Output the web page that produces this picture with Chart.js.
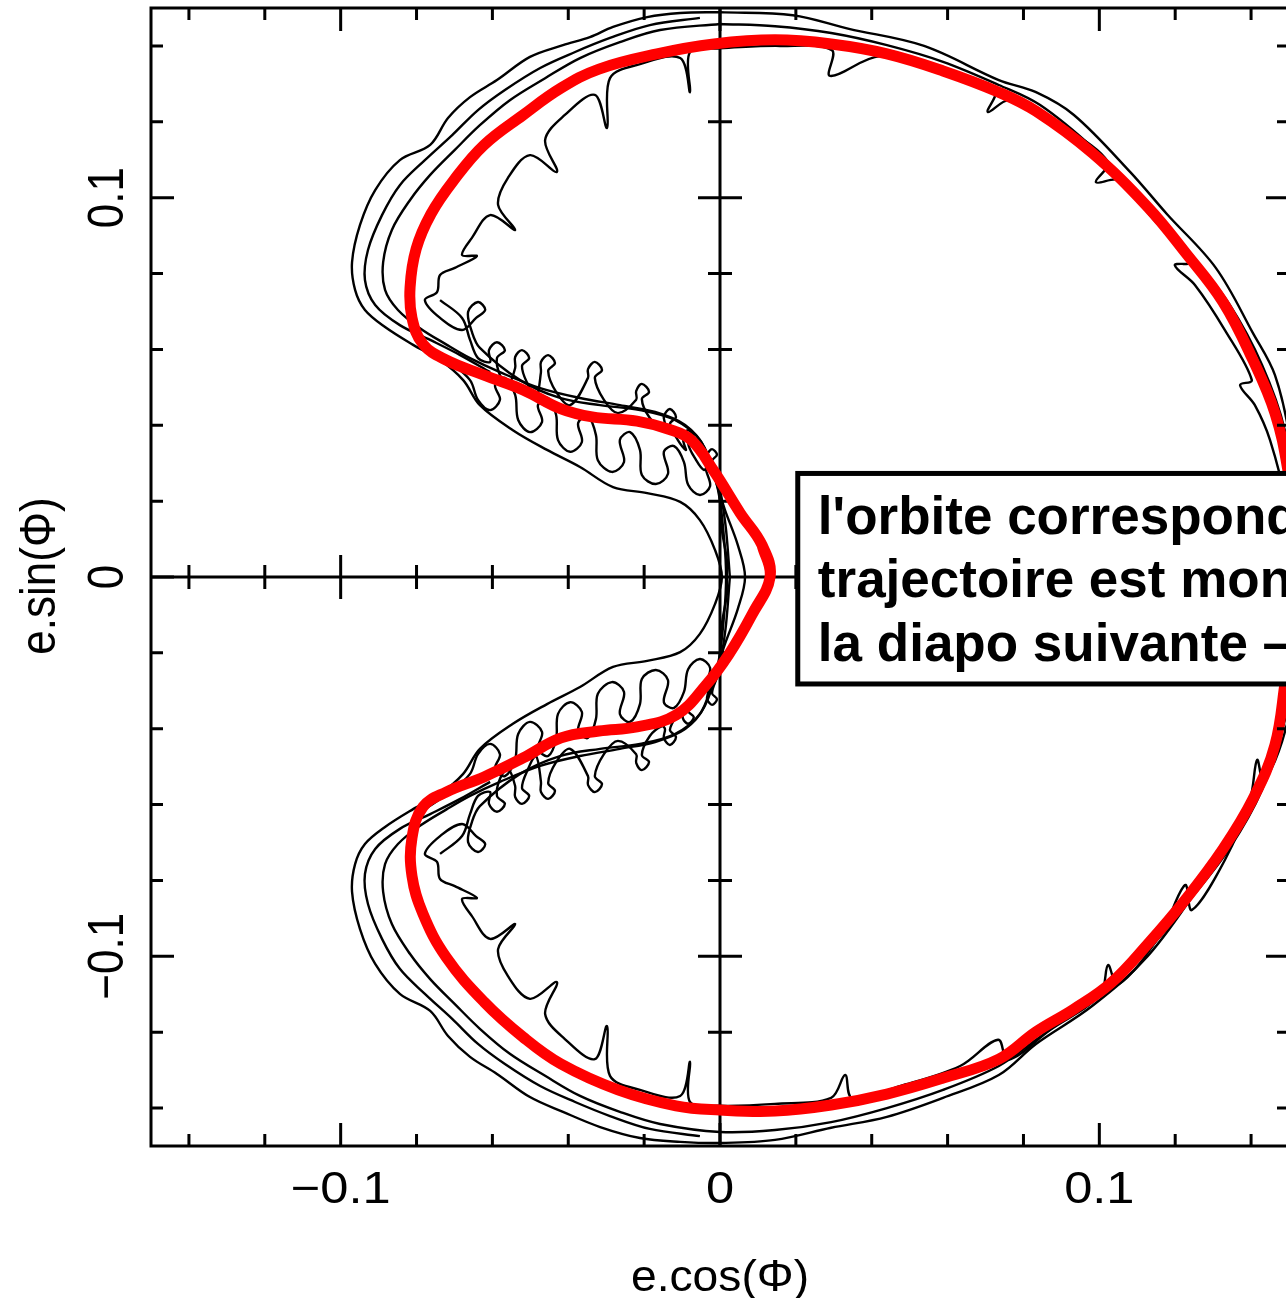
<!DOCTYPE html>
<html>
<head>
<meta charset="utf-8">
<script src="https://cdn.jsdelivr.net/npm/chart.js@4.4.1/dist/chart.umd.min.js"></script>
<style>
  html, body { margin: 0; padding: 0; background: #fff; overflow: hidden; }
  #wrap { width: 1300px; height: 1298px; }
</style>
</head>
<body>
<div id="wrap"><canvas id="orbitChart" width="1300" height="1298"></canvas></div>
<script>
// tick values and labels
const xTicks = [-0.1, 0, 0.1];
const xTickLabels = ['\u22120.1', '0', '0.1'];
const yTicks = [-0.1, 0, 0.1];
const yTickLabels = ['\u22120.1', '0', '0.1'];
const minorTicks = [-0.14, -0.12, -0.1, -0.08, -0.06, -0.04, -0.02, 0, 0.02, 0.04, 0.06, 0.08, 0.1, 0.12, 0.14];
const majorTicks = [-0.1, 0, 0.1];
const xTitle = 'e.cos(\u03a6)';
const yTitle = 'e.sin(\u03a6)';
const boxLines = ["l'orbite correspond", 'trajectoire est mon', 'la diapo suivante \u2013'];

// mean orbit (red), first and last points overlap so the loop closes smoothly
const redX = [0.0084,0.0132,0.0111,0.0053,-0.0016,-0.0076,-0.0137,-0.0219,-0.0337,-0.0419,-0.0519,-0.0622,-0.0722,-0.0783,-0.0812,-0.0817,-0.0801,-0.0762,-0.0701,-0.0622,-0.0519,-0.0419,-0.0319,-0.0166,-0.0016,0.0145,0.0293,0.0440,0.0588,0.0735,0.0833,0.0981,0.1128,0.1228,0.1326,0.1405,0.1463,0.1497,0.1516,0.1521,0.1516,0.1492,0.1463,0.1405,0.1326,0.1228,0.1128,0.1031,0.0933,0.0833,0.0735,0.0588,0.0440,0.0293,0.0145,0,-0.0116,-0.0269,-0.0419,-0.0519,-0.0622,-0.0722,-0.0783,-0.0812,-0.0812,-0.0783,-0.0722,-0.0622,-0.0519,-0.0419,-0.0319,-0.0219,-0.0116,-0.0037,0.0024,0.0084,0.0132,0.0111];
const redY = [-0.0100,0,0.0084,0.0169,0.0279,0.0361,0.0390,0.0411,0.0422,0.0443,0.0493,0.0532,0.0572,0.0614,0.0683,0.0764,0.0865,0.0957,0.1047,0.1139,0.1218,0.1289,0.1339,0.1379,0.1405,0.1416,0.1405,0.1379,0.1334,0.1278,0.1228,0.1118,0.0975,0.0854,0.0725,0.0572,0.0432,0.0282,0.0124,0,-0.0127,-0.0264,-0.0443,-0.0585,-0.0717,-0.0849,-0.0967,-0.1070,-0.1139,-0.1199,-0.1271,-0.1321,-0.1363,-0.1392,-0.1408,-0.1405,-0.1394,-0.1352,-0.1284,-0.1213,-0.1120,-0.1002,-0.0888,-0.0788,-0.0688,-0.0606,-0.0567,-0.0527,-0.0477,-0.0424,-0.0406,-0.0395,-0.0364,-0.0285,-0.0203,-0.0100,0,0.0084];

// black trajectories
const outerX = [0,-0.0105,-0.0192,-0.0282,-0.0343,-0.0414,-0.0501,-0.0588,-0.0659,-0.0717,-0.0764,-0.0844,-0.0909,-0.0949,-0.0970,-0.0962,-0.0936,-0.0883,-0.0809,-0.0738,-0.0677,-0.0633,-0.0546,-0.0456,-0.0369,-0.0282,-0.0192,-0.0105,-0.0053,-0.0013,0.0005,-0.0013,-0.0053,-0.0105,-0.0192,-0.0282,-0.0369,-0.0456,-0.0546,-0.0633,-0.0677,-0.0738,-0.0809,-0.0883,-0.0936,-0.0962,-0.0970,-0.0949,-0.0909,-0.0844,-0.0764,-0.0717,-0.0659,-0.0588,-0.0501,-0.0414,-0.0316,-0.0211,-0.0105,0,0.0145,0.0293,0.0440,0.0588,0.0735,0.0833,0.0981,0.1128,0.1276,0.1376,0.1463,0.1508,0.1529,0.1529,0.1503,0.1463,0.1405,0.1307,0.1178,0.1081,0.0933,0.0833,0.0735,0.0538,0.0340,0.0192,0];
const outerY = [0.1489,0.1487,0.1476,0.1450,0.1423,0.1402,0.1371,0.1310,0.1265,0.1210,0.1139,0.1099,0.1020,0.0928,0.0830,0.0757,0.0704,0.0659,0.0612,0.0572,0.0519,0.0453,0.0387,0.0335,0.0290,0.0237,0.0221,0.0198,0.0150,0.0071,0,-0.0071,-0.0150,-0.0198,-0.0221,-0.0237,-0.0290,-0.0335,-0.0387,-0.0453,-0.0519,-0.0572,-0.0612,-0.0659,-0.0704,-0.0757,-0.0830,-0.0928,-0.1020,-0.1099,-0.1144,-0.1210,-0.1265,-0.1310,-0.1371,-0.1410,-0.1450,-0.1479,-0.1489,-0.1492,-0.1484,-0.1452,-0.1423,-0.1373,-0.1313,-0.1231,-0.1131,-0.0999,-0.0796,-0.0635,-0.0485,-0.0324,-0.0113,0.0124,0.0361,0.0532,0.0643,0.0815,0.0957,0.1068,0.1218,0.1278,0.1310,0.1400,0.1445,0.1481,0.1489];

const arcUpX = [-0.0053,-0.0185,-0.0290,-0.0382,-0.0474,-0.0567,-0.0638,-0.0706,-0.0778,-0.0844,-0.0891,-0.0928,-0.0936,-0.0909,-0.0844,-0.0764,-0.0685,-0.0606];
const arcUpY = [0.1474,0.1455,0.1421,0.1384,0.1342,0.1284,0.1231,0.1165,0.1099,0.1033,0.0954,0.0862,0.0783,0.0717,0.0664,0.0625,0.0585,0.0540];
const arcDnX = [-0.0606,-0.0685,-0.0764,-0.0844,-0.0909,-0.0936,-0.0928,-0.0891,-0.0844,-0.0778,-0.0706,-0.0638,-0.0567,-0.0474,-0.0382,-0.0290,-0.0185,-0.0053];
const arcDnY = [-0.0540,-0.0585,-0.0625,-0.0664,-0.0717,-0.0783,-0.0862,-0.0954,-0.1033,-0.1099,-0.1165,-0.1231,-0.1284,-0.1342,-0.1384,-0.1421,-0.1455,-0.1474];

const midX = [0,-0.0158,-0.0264,-0.0369,-0.0461,-0.0554,-0.0633,-0.0699,-0.0764,-0.0817,-0.0865,-0.0888,-0.0883,-0.0849,-0.0791,-0.0720,-0.0659,-0.0580,-0.0474,-0.0369,-0.0264,-0.0171,-0.0092,-0.0040,-0.0005,0.0011,0.0016,0.0011,-0.0005,-0.0040,-0.0092,-0.0171,-0.0264,-0.0369,-0.0474,-0.0580,-0.0659,-0.0720,-0.0791,-0.0849,-0.0883,-0.0888,-0.0865,-0.0817,-0.0764,-0.0699,-0.0633,-0.0554,-0.0461,-0.0369,-0.0264,-0.0158,0,0.0145,0.0293,0.0440,0.0588,0.0735,0.0833,0.0981,0.1128,0.1239,0.1344,0.1429,0.1489,0.1518,0.1518,0.1489,0.1429,0.1344,0.1244,0.1133,0.0989,0.0844,0.0735,0.0588,0.0440,0.0293,0.0145,0];
const midY = [0.1458,0.1442,0.1410,0.1368,0.1315,0.1257,0.1191,0.1126,0.1060,0.0994,0.0915,0.0830,0.0757,0.0704,0.0656,0.0612,0.0577,0.0540,0.0498,0.0472,0.0453,0.0435,0.0401,0.0340,0.0229,0.0098,0,-0.0098,-0.0229,-0.0340,-0.0401,-0.0435,-0.0453,-0.0472,-0.0498,-0.0540,-0.0577,-0.0612,-0.0656,-0.0704,-0.0757,-0.0830,-0.0915,-0.0994,-0.1060,-0.1126,-0.1191,-0.1257,-0.1315,-0.1368,-0.1410,-0.1442,-0.1463,-0.1458,-0.1437,-0.1400,-0.1352,-0.1289,-0.1220,-0.1110,-0.0983,-0.0851,-0.0714,-0.0561,-0.0377,-0.0166,0.0177,0.0387,0.0559,0.0717,0.0849,0.0981,0.1126,0.1244,0.1297,0.1358,0.1402,0.1434,0.1452,0.1458];

const innerX = [0,-0.0079,-0.0079,-0.0105,-0.0211,-0.0290,-0.0298,-0.0330,-0.0409,-0.0461,-0.0430,-0.0501,-0.0559,-0.0585,-0.0540,-0.0606,-0.0654,-0.0680,-0.0641,-0.0699,-0.0738,-0.0746,-0.0778,-0.0738,-0.0680,-0.0643,-0.0619,-0.0638,-0.0664,-0.0654,-0.0633,-0.0527,-0.0422,-0.0316,-0.0211,-0.0119,-0.0053,-0.0021,0.0013,0.0047,0.0066,0.0047,0.0013,-0.0021,-0.0053,-0.0119,-0.0211,-0.0316,-0.0422,-0.0527,-0.0633,-0.0654,-0.0664,-0.0638,-0.0619,-0.0643,-0.0680,-0.0738,-0.0778,-0.0746,-0.0738,-0.0699,-0.0641,-0.0680,-0.0654,-0.0606,-0.0540,-0.0585,-0.0559,-0.0501,-0.0430,-0.0461,-0.0409,-0.0330,-0.0298,-0.0290,-0.0211,-0.0105,-0.0079,-0.0079,0,0.0145,0.0293,0.0330,0.0348,0.0474,0.0633,0.0733,0.0759,0.0870,0.1002,0.1023,0.1049,0.1160,0.1226,0.1244,0.1331,0.1397,0.1416,0.1434,0.1481,0.1503,0.1503,0.1489,0.1450,0.1410,0.1371,0.1402,0.1331,0.1252,0.1199,0.1239,0.1133,0.1054,0.0991,0.1023,0.0896,0.0764,0.0706,0.0725,0.0580,0.0422,0.0290,0.0295,0.0158,0];
const innerY = [0.1394,0.1384,0.1278,0.1368,0.1352,0.1315,0.1184,0.1271,0.1218,0.1152,0.1068,0.1112,0.1052,0.0981,0.0915,0.0954,0.0894,0.0849,0.0846,0.0815,0.0796,0.0751,0.0730,0.0683,0.0651,0.0683,0.0704,0.0725,0.0699,0.0646,0.0604,0.0519,0.0472,0.0453,0.0440,0.0414,0.0361,0.0282,0.0177,0.0084,0,-0.0084,-0.0177,-0.0282,-0.0361,-0.0414,-0.0440,-0.0453,-0.0472,-0.0519,-0.0604,-0.0646,-0.0699,-0.0725,-0.0704,-0.0683,-0.0651,-0.0683,-0.0730,-0.0751,-0.0796,-0.0815,-0.0846,-0.0849,-0.0894,-0.0954,-0.0915,-0.0981,-0.1052,-0.1112,-0.1068,-0.1152,-0.1218,-0.1271,-0.1184,-0.1315,-0.1352,-0.1368,-0.1278,-0.1384,-0.1394,-0.1389,-0.1373,-0.1313,-0.1373,-0.1342,-0.1289,-0.1220,-0.1273,-0.1194,-0.1102,-0.1023,-0.1075,-0.0944,-0.0812,-0.0878,-0.0746,-0.0588,-0.0482,-0.0548,-0.0377,-0.0192,0,0.0203,0.0361,0.0453,0.0506,0.0519,0.0651,0.0770,0.0822,0.0830,0.0954,0.1046,0.1041,0.1094,0.1191,0.1257,0.1226,0.1284,0.1336,0.1373,0.1321,0.1389,0.1400,0.1394];

const loopUpX = [-0.0778,-0.0712,-0.0659,-0.0638,-0.0606,-0.0580,-0.0593,-0.0567,-0.0540,-0.0532,-0.0501,-0.0469,-0.0480,-0.0453,-0.0432,-0.0427,-0.0395,-0.0364,-0.0374,-0.0348,-0.0327,-0.0322,-0.0285,-0.0253,-0.0264,-0.0237,-0.0211,-0.0206,-0.0169,-0.0137,-0.0148,-0.0121,-0.0095,-0.0084,-0.0053,-0.0026,-0.0037,-0.0016,0,0.0005,0.0018,0.0018];
const loopUpY = [0.0612,0.0567,0.0519,0.0467,0.0440,0.0467,0.0506,0.0525,0.0480,0.0414,0.0382,0.0409,0.0453,0.0472,0.0427,0.0361,0.0330,0.0356,0.0406,0.0424,0.0374,0.0308,0.0277,0.0303,0.0361,0.0382,0.0335,0.0269,0.0245,0.0272,0.0330,0.0345,0.0303,0.0243,0.0216,0.0240,0.0287,0.0282,0.0203,0.0124,0.0045,0];
const loopDnX = [-0.0778,-0.0712,-0.0659,-0.0638,-0.0606,-0.0580,-0.0593,-0.0567,-0.0540,-0.0532,-0.0501,-0.0469,-0.0480,-0.0453,-0.0432,-0.0427,-0.0395,-0.0364,-0.0374,-0.0348,-0.0327,-0.0322,-0.0285,-0.0253,-0.0264,-0.0237,-0.0211,-0.0206,-0.0169,-0.0137,-0.0148,-0.0121,-0.0095,-0.0084,-0.0053,-0.0026,-0.0037,-0.0016,0,0.0005,0.0018,0.0018];
const loopDnY = [-0.0612,-0.0567,-0.0519,-0.0467,-0.0440,-0.0467,-0.0506,-0.0525,-0.0480,-0.0414,-0.0382,-0.0409,-0.0453,-0.0472,-0.0427,-0.0361,-0.0330,-0.0356,-0.0406,-0.0424,-0.0374,-0.0308,-0.0277,-0.0303,-0.0361,-0.0382,-0.0335,-0.0269,-0.0245,-0.0272,-0.0330,-0.0345,-0.0303,-0.0243,-0.0216,-0.0240,-0.0287,-0.0282,-0.0203,-0.0124,-0.0045,0];

const curlUpX = [-0.0738,-0.0680,-0.0659,-0.0638,-0.0606,-0.0609,-0.0588,-0.0567,-0.0588,-0.0580,-0.0559,-0.0540,-0.0540,-0.0522,-0.0503,-0.0522,-0.0506,-0.0485,-0.0472,-0.0472,-0.0453,-0.0435,-0.0453,-0.0432,-0.0395,-0.0348,-0.0348,-0.0330,-0.0311,-0.0330,-0.0306,-0.0269,-0.0221,-0.0221,-0.0206,-0.0187,-0.0206,-0.0185,-0.0153,-0.0145,-0.0148,-0.0132,-0.0116,-0.0132,-0.0111,-0.0090,-0.0095,-0.0098,-0.0084,-0.0069,-0.0084,-0.0063,-0.0042,-0.0032,-0.0034,-0.0021,-0.0008,-0.0021,-0.0005,0.0005,0.0016,0.0026];
const curlUpY = [0.0730,0.0683,0.0625,0.0577,0.0567,0.0598,0.0619,0.0598,0.0577,0.0532,0.0506,0.0551,0.0580,0.0598,0.0577,0.0556,0.0506,0.0472,0.0540,0.0567,0.0585,0.0564,0.0543,0.0488,0.0453,0.0525,0.0548,0.0567,0.0546,0.0525,0.0467,0.0432,0.0467,0.0490,0.0509,0.0488,0.0469,0.0419,0.0393,0.0401,0.0424,0.0443,0.0422,0.0403,0.0361,0.0335,0.0351,0.0372,0.0387,0.0369,0.0353,0.0308,0.0282,0.0303,0.0322,0.0337,0.0322,0.0306,0.0256,0.0203,0.0124,0];
const curlDnX = [-0.0738,-0.0680,-0.0659,-0.0638,-0.0606,-0.0609,-0.0588,-0.0567,-0.0588,-0.0580,-0.0559,-0.0540,-0.0540,-0.0522,-0.0503,-0.0522,-0.0506,-0.0485,-0.0472,-0.0472,-0.0453,-0.0435,-0.0453,-0.0432,-0.0395,-0.0348,-0.0348,-0.0330,-0.0311,-0.0330,-0.0306,-0.0269,-0.0221,-0.0221,-0.0206,-0.0187,-0.0206,-0.0185,-0.0153,-0.0145,-0.0148,-0.0132,-0.0116,-0.0132,-0.0111,-0.0090,-0.0095,-0.0098,-0.0084,-0.0069,-0.0084,-0.0063,-0.0042,-0.0032,-0.0034,-0.0021,-0.0008,-0.0021,-0.0005,0.0005,0.0016,0.0026];
const curlDnY = [-0.0730,-0.0683,-0.0625,-0.0577,-0.0567,-0.0598,-0.0619,-0.0598,-0.0577,-0.0532,-0.0506,-0.0551,-0.0580,-0.0598,-0.0577,-0.0556,-0.0506,-0.0472,-0.0540,-0.0567,-0.0585,-0.0564,-0.0543,-0.0488,-0.0453,-0.0525,-0.0548,-0.0567,-0.0546,-0.0525,-0.0467,-0.0432,-0.0467,-0.0490,-0.0509,-0.0488,-0.0469,-0.0419,-0.0393,-0.0401,-0.0424,-0.0443,-0.0422,-0.0403,-0.0361,-0.0335,-0.0351,-0.0372,-0.0387,-0.0369,-0.0353,-0.0308,-0.0282,-0.0303,-0.0322,-0.0337,-0.0322,-0.0306,-0.0256,-0.0203,-0.0124,0];

const pts = (xs, ys) => xs.map((v, i) => ({ x: v, y: ys[i] }));

const blackLine = (xs, ys) => ({
  data: pts(xs, ys),
  showLine: true,
  borderColor: '#000',
  borderWidth: 2.4,
  tension: 0.35,
  pointRadius: 0,
  order: 1
});

const font = (size, weight) => (weight || '') + ' ' + size + 'px "Liberation Sans", Arial, sans-serif';

// frame, inner ticks, centre axes, labels and the text box
const framePlugin = {
  id: 'framePlugin',
  beforeDatasetsDraw(chart) {
    const { ctx, chartArea: a, scales: { x, y } } = chart;
    const x0 = x.getPixelForValue(0), y0 = y.getPixelForValue(0);
    ctx.save();
    ctx.strokeStyle = '#000';
    ctx.lineWidth = 3;
    ctx.beginPath();
    ctx.moveTo(x0, a.top); ctx.lineTo(x0, a.bottom);
    ctx.moveTo(a.left, y0); ctx.lineTo(a.right, y0);
    minorTicks.forEach(v => {
      const len = majorTicks.includes(v) ? 22 : 12;
      const px = x.getPixelForValue(v), py = y.getPixelForValue(v);
      ctx.moveTo(x0 - len, py); ctx.lineTo(x0 + len, py);
      ctx.moveTo(px, y0 - len); ctx.lineTo(px, y0 + len);
    });
    ctx.stroke();
    ctx.restore();
  },
  afterDatasetsDraw(chart) {
    const { ctx, chartArea: a, scales: { x, y } } = chart;
    ctx.save();
    ctx.strokeStyle = '#000';
    ctx.fillStyle = '#000';
    ctx.lineWidth = 3;
    ctx.strokeRect(a.left, a.top, a.right - a.left, a.bottom - a.top);
    ctx.beginPath();
    minorTicks.forEach(v => {
      const len = majorTicks.includes(v) ? 23 : 12;
      const px = x.getPixelForValue(v), py = y.getPixelForValue(v);
      ctx.moveTo(px, a.top); ctx.lineTo(px, a.top + len);
      ctx.moveTo(px, a.bottom); ctx.lineTo(px, a.bottom - len);
      ctx.moveTo(a.left, py); ctx.lineTo(a.left + len, py);
      ctx.moveTo(a.right, py); ctx.lineTo(a.right - len, py);
    });
    ctx.stroke();

    // tick labels
    ctx.font = font(44);
    ctx.textAlign = 'center';
    ctx.textBaseline = 'alphabetic';
    xTicks.forEach((v, i) => {
      ctx.save();
      ctx.translate(x.getPixelForValue(v), a.bottom + 57);
      ctx.scale(1.15, 1);
      ctx.fillText(xTickLabels[i], 0, 0);
      ctx.restore();
    });
    yTicks.forEach((v, i) => {
      ctx.save();
      ctx.translate(a.left - 28, y.getPixelForValue(v));
      ctx.scale(1.15, 1);
      ctx.rotate(-Math.PI / 2);
      ctx.fillText(yTickLabels[i], 0, 0);
      ctx.restore();
    });

    // axis titles
    ctx.save();
    ctx.translate((a.left + a.right) / 2, a.bottom + 145);
    ctx.scale(1.05, 1);
    ctx.fillText(xTitle, 0, 0);
    ctx.restore();
    ctx.save();
    ctx.translate(a.left - 96, y.getPixelForValue(0) - 1);
    ctx.scale(1.15, 1);
    ctx.rotate(-Math.PI / 2);
    ctx.fillText(yTitle, 0, 0);
    ctx.restore();

    // text box
    const bx = x.getPixelForValue(0.0205);
    const bt = y.getPixelForValue(0.0273);
    const bb = y.getPixelForValue(-0.0282);
    ctx.fillStyle = '#fff';
    ctx.fillRect(bx, bt, chart.width - bx + 20, bb - bt);
    ctx.lineWidth = 5;
    ctx.strokeRect(bx, bt, chart.width - bx + 20, bb - bt);
    ctx.fillStyle = '#000';
    ctx.font = font(53, 'bold');
    ctx.textAlign = 'left';
    const tx = x.getPixelForValue(0.0258);
    [0.0113, -0.0054, -0.0222].forEach((v, i) => {
      ctx.fillText(boxLines[i], tx, y.getPixelForValue(v));
    });
    ctx.restore();
  }
};

const ctx = document.getElementById('orbitChart').getContext('2d');

const myChart = new Chart(ctx, {
  type: 'scatter',
  data: {
    datasets: [
      {
        data: pts(redX, redY),
        showLine: true,
        borderColor: '#ff0000',
        borderWidth: 11,
        borderCapStyle: 'butt',
        borderJoinStyle: 'round',
        tension: 0.4,
        pointRadius: 0,
        order: 0
      },
      blackLine(outerX, outerY),
      blackLine(arcUpX, arcUpY),
      blackLine(arcDnX, arcDnY),
      blackLine(midX, midY),
      blackLine(innerX, innerY),
      blackLine(loopUpX, loopUpY),
      blackLine(loopDnX, loopDnY),
      blackLine(curlUpX, curlUpY),
      blackLine(curlDnX, curlDnY)
    ]
  },
  options: {
    responsive: false,
    animation: false,
    devicePixelRatio: 1,
    layout: { padding: { top: 8, right: 11, left: 0, bottom: 0 } },
    plugins: {
      legend: { display: false },
      tooltip: { enabled: false }
    },
    scales: {
      x: {
        type: 'linear',
        min: -0.15,
        max: 0.15,
        ticks: { display: false },
        grid: { display: false },
        border: { display: false },
        afterFit: (scale) => { scale.height = 152; }
      },
      y: {
        type: 'linear',
        min: -0.15,
        max: 0.15,
        ticks: { display: false },
        grid: { display: false },
        border: { display: false },
        afterFit: (scale) => { scale.width = 151; }
      }
    }
  },
  plugins: [framePlugin]
});
</script>
</body>
</html>
